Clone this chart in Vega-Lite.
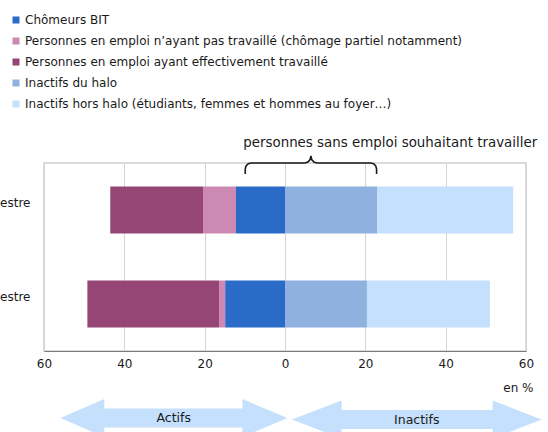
{
  "$schema": "https://vega.github.io/schema/vega-lite/v6.json",
  "width": 482,
  "height": 188,
  "autosize": {"type": "none"},
  "padding": {"left": 44, "top": 163, "right": 22, "bottom": 81},
  "background": "white",
  "config": {
    "font": "DejaVu Sans",
    "view": {"stroke": "#cfcfcf", "strokeWidth": 1.5},
    "axis": {"labelColor": "#1a1a1a", "titleColor": "#1a1a1a", "labelFontSize": 12, "titleFontSize": 12, "titleFontWeight": "normal"},
    "legend": {"labelColor": "#1a1a1a"}
  },
  "layer": [
    {
      "data": {"values": [
        {"trimestre": "1er trimestre", "categorie": "Chômeurs BIT", "valeur": -14.9, "ordre": 1},
        {"trimestre": "1er trimestre", "categorie": "Personnes en emploi n’ayant pas travaillé (chômage partiel notamment)", "valeur": -1.5, "ordre": 2},
        {"trimestre": "1er trimestre", "categorie": "Personnes en emploi ayant effectivement travaillé", "valeur": -32.8, "ordre": 3},
        {"trimestre": "1er trimestre", "categorie": "Inactifs du halo", "valeur": 20.4, "ordre": 4},
        {"trimestre": "1er trimestre", "categorie": "Inactifs hors halo (étudiants, femmes et hommes au foyer…)", "valeur": 30.6, "ordre": 5},
        {"trimestre": "2e trimestre", "categorie": "Chômeurs BIT", "valeur": -12.2, "ordre": 1},
        {"trimestre": "2e trimestre", "categorie": "Personnes en emploi n’ayant pas travaillé (chômage partiel notamment)", "valeur": -8.2, "ordre": 2},
        {"trimestre": "2e trimestre", "categorie": "Personnes en emploi ayant effectivement travaillé", "valeur": -23.1, "ordre": 3},
        {"trimestre": "2e trimestre", "categorie": "Inactifs du halo", "valeur": 23.0, "ordre": 4},
        {"trimestre": "2e trimestre", "categorie": "Inactifs hors halo (étudiants, femmes et hommes au foyer…)", "valeur": 33.8, "ordre": 5}
      ]},
      "mark": {"type": "bar"},
      "encoding": {
        "y": {"field": "trimestre", "type": "nominal", "sort": ["2e trimestre", "1er trimestre"],
              "scale": {"paddingInner": 0.5, "paddingOuter": 0.25},
              "axis": {"title": null, "ticks": false, "domain": false, "labelPadding": 14, "labelOffset": -7}},
        "x": {"field": "valeur", "type": "quantitative", "stack": "zero",
              "scale": {"domain": [-60, 60], "nice": false},
              "axis": {"values": [-60, -40, -20, 0, 20, 40, 60], "labelExpr": "abs(datum.value)", "ticks": false, "labelPadding": 7, "labelFlush": false,
                       "grid": true, "gridColor": "#d4d4d4", "domainColor": "#7a7a7a", "domainWidth": 1.2,
                       "title": "en %", "titleAnchor": "end", "titleAlign": "right", "titleX": 489, "titleY": 36, "titleBaseline": "middle"}},
        "color": {"field": "categorie", "type": "nominal",
                  "scale": {"domain": ["Chômeurs BIT", "Personnes en emploi n’ayant pas travaillé (chômage partiel notamment)", "Personnes en emploi ayant effectivement travaillé", "Inactifs du halo", "Inactifs hors halo (étudiants, femmes et hommes au foyer…)"],
                            "range": ["#2a6bc7", "#cc8ab2", "#954675", "#8eb1df", "#c5e0fd"]},
                  "legend": {"title": null, "orient": "none", "legendX": -34, "legendY": -149, "padding": 0,
                             "symbolType": "square", "symbolSize": 49, "symbolStrokeWidth": 0, "symbolOpacity": 1,
                             "labelFontSize": 12, "labelOffset": 3, "rowPadding": 9, "labelLimit": 1000}},
        "order": {"field": "ordre", "type": "quantitative"}
      }
    },
    {
      "mark": {"type": "rule", "color": "#888888", "strokeWidth": 1.8},
      "encoding": {"x": {"datum": 0, "type": "quantitative"}}
    },
    {
      "data": {"values": [
        {"i": 1, "x": -9.9, "v": 177},
        {"i": 2, "x": -9.9, "v": 182},
        {"i": 3, "x": -9.7, "v": 185},
        {"i": 4, "x": -9.15, "v": 187.2},
        {"i": 5, "x": -8.4, "v": 188},
        {"i": 6, "x": 4.95, "v": 188},
        {"i": 7, "x": 5.7, "v": 189},
        {"i": 8, "x": 6.25, "v": 191.5},
        {"i": 9, "x": 6.45, "v": 195},
        {"i": 10, "x": 6.65, "v": 191.5},
        {"i": 11, "x": 7.2, "v": 189},
        {"i": 12, "x": 7.95, "v": 188},
        {"i": 13, "x": 21.3, "v": 188},
        {"i": 14, "x": 22.05, "v": 187.2},
        {"i": 15, "x": 22.6, "v": 185},
        {"i": 16, "x": 22.8, "v": 182},
        {"i": 17, "x": 22.8, "v": 177}
      ]},
      "mark": {"type": "line", "color": "#1a1a1a", "strokeWidth": 1.6, "clip": false},
      "encoding": {
        "x": {"field": "x", "type": "quantitative"},
        "y": {"field": "v", "type": "quantitative", "scale": {"domain": [0, 188], "nice": false, "zero": false}, "axis": null},
        "order": {"field": "i", "type": "quantitative"}
      }
    },
    {
      "data": {"values": [{"texte": "personnes sans emploi souhaitant travailler", "x": -10.4, "v": 208}]},
      "mark": {"type": "text", "align": "left", "baseline": "middle", "fontSize": 13.4, "color": "#1a1a1a", "clip": false},
      "encoding": {
        "x": {"field": "x", "type": "quantitative"},
        "y": {"field": "v", "type": "quantitative", "scale": {"domain": [0, 188], "nice": false, "zero": false}, "axis": null},
        "text": {"field": "texte"}
      }
    },
    {
      "data": {"values": [
        {"fleche": "Actifs", "x": -55.9, "haut": -67, "bas": -67},
        {"fleche": "Actifs", "x": -45.0, "haut": -48, "bas": -86},
        {"fleche": "Actifs", "x": -45.0, "haut": -57.5, "bas": -76.5},
        {"fleche": "Actifs", "x": -10.6, "haut": -57.5, "bas": -76.5},
        {"fleche": "Actifs", "x": -10.6, "haut": -48, "bas": -86},
        {"fleche": "Actifs", "x": 0.6, "haut": -67, "bas": -67},
        {"fleche": "Inactifs", "x": 1.7, "haut": -68.5, "bas": -68.5},
        {"fleche": "Inactifs", "x": 14.1, "haut": -49.5, "bas": -87.5},
        {"fleche": "Inactifs", "x": 14.1, "haut": -59, "bas": -78},
        {"fleche": "Inactifs", "x": 51.7, "haut": -59, "bas": -78},
        {"fleche": "Inactifs", "x": 51.7, "haut": -49.5, "bas": -87.5},
        {"fleche": "Inactifs", "x": 63.9, "haut": -68.5, "bas": -68.5}
      ]},
      "mark": {"type": "area", "color": "#c5e0fc", "opacity": 1, "clip": false},
      "encoding": {
        "x": {"field": "x", "type": "quantitative"},
        "y": {"field": "haut", "type": "quantitative", "scale": {"domain": [0, 188], "nice": false, "zero": false}, "axis": null},
        "y2": {"field": "bas"},
        "detail": {"field": "fleche"}
      }
    },
    {
      "data": {"values": [
        {"texte": "Actifs", "x": -27.7, "v": -67},
        {"texte": "Inactifs", "x": 32.8, "v": -68.5}
      ]},
      "mark": {"type": "text", "align": "center", "baseline": "middle", "fontSize": 12.5, "color": "#1a1a1a", "clip": false},
      "encoding": {
        "x": {"field": "x", "type": "quantitative"},
        "y": {"field": "v", "type": "quantitative", "scale": {"domain": [0, 188], "nice": false, "zero": false}, "axis": null},
        "text": {"field": "texte"}
      }
    }
  ],
  "resolve": {"scale": {"y": "independent", "color": "independent"}}
}
